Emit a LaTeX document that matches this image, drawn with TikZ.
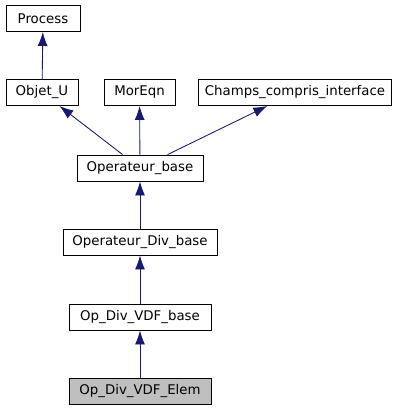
\documentclass[tikz,border=0pt]{standalone}
\usepackage{fontspec}
\setmainfont{DejaVu Sans}
\usetikzlibrary{arrows.meta, positioning}
\definecolor{dnavy}{HTML}{191970}
\definecolor{dgrey}{HTML}{BFBFBF}
\tikzset{
cls/.style = {%
    draw=black, fill=white, line width=0.7pt,
    minimum width=#1*0.75pt, minimum height=19.5pt,
    inner xsep=2pt, inner ysep=0pt,
    font=\fontsize{10}{12}\selectfont},
    cls/.default = 72 % box width in pixels
}
\begin{document}
\begin{tikzpicture}[%
        x=0.75pt, y=-0.75pt,
        every edge/.style = {draw=dnavy, line width=0.65pt,
            {Latex[length=10.5pt,width=7.5pt]}-}
    ]
        % Fix the page size to the reference
        \useasboundingbox (0,0) rectangle (403,411);

        % Class boxes
        \node[cls=74]  at (43,18.5)   (process) {Process};
        \node[cls=72]  at (42,92.5)   (objetu)  {Objet\_U};
        \node[cls=71]  at (139.5,92.5) (moreqn) {MorEqn};
        \node[cls=193] at (295,92.5)  (champs)  {Champs\_compris\_interface};
        \node[cls=126] at (140,168)   (opbase)  {Operateur\_base};
        \node[cls=154] at (140,242)   (opdiv)   {Operateur\_Div\_base};
        \node[cls=142] at (140,317)   (vdfbase) {Op\_Div\_VDF\_base};
        \node[cls=142,fill=dgrey] at (140,391.5) (vdfelem) {Op\_Div\_VDF\_Elem};

        % Inheritance arrows
        \draw (process) edge (objetu);
        \draw (objetu)  edge (opbase);
        \draw (moreqn)  edge (opbase);
        \draw (champs)  edge (opbase);
        \draw (opbase)  edge (opdiv);
        \draw (opdiv)   edge (vdfbase);
        \draw (vdfbase) edge (vdfelem);

    \end{tikzpicture}
\end{document}
